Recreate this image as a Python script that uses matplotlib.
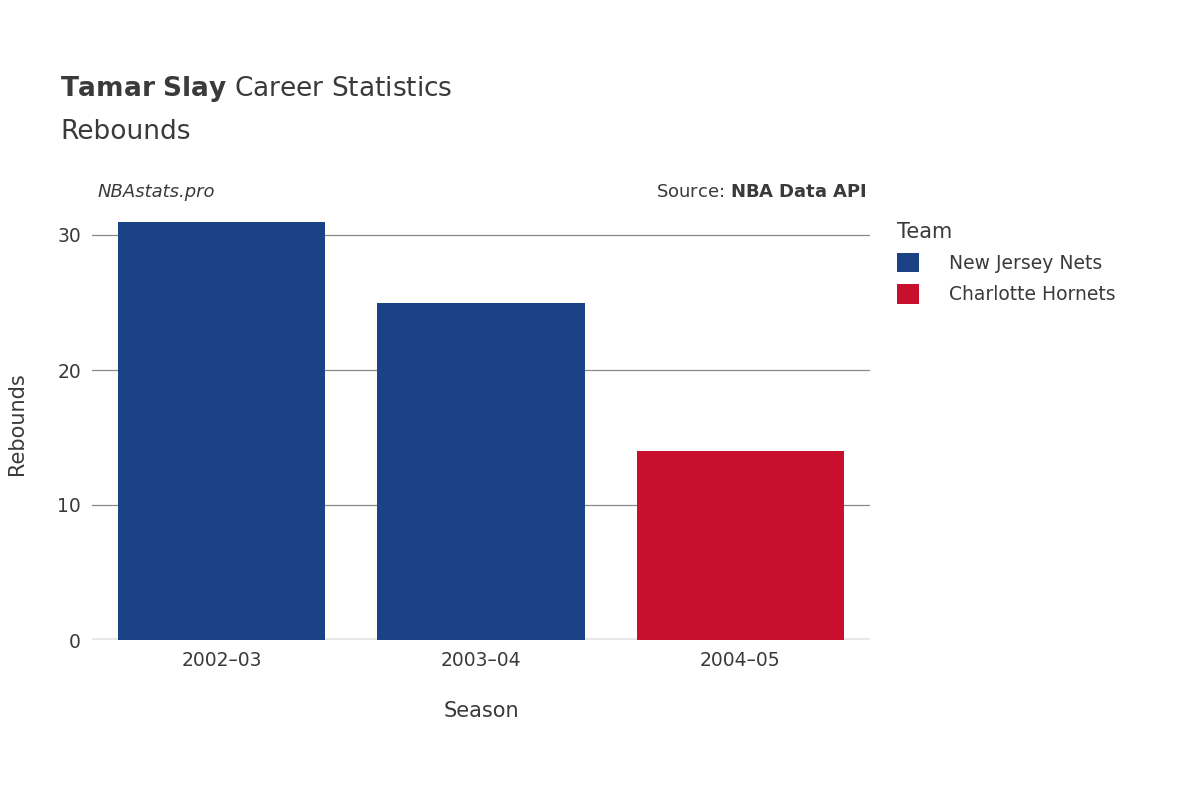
import matplotlib.pyplot as plt
from matplotlib.patches import Patch

seasons = ["2002\u201303", "2003\u201304", "2004\u201305"]
rebounds = [31, 25, 14]
teams = ["New Jersey Nets", "New Jersey Nets", "Charlotte Hornets"]
team_colors = {"New Jersey Nets": "#1c4286", "Charlotte Hornets": "#c8102e"}
txt = "#3a3a3a"

fig = plt.figure(figsize=(12, 8), dpi=100)
ax = fig.add_axes([92 / 1200, 160 / 800, 778 / 1200, 432 / 800])

x = range(len(seasons))
ax.bar(x, rebounds, width=0.8, color=[team_colors[t] for t in teams], zorder=3)
ax.set_xlim(-0.5, 2.5)
ax.set_ylim(0, 32)
ax.set_yticks([0, 10, 20, 30])
ax.set_xticks(list(x))
ax.set_xticklabels(seasons)
ax.grid(axis="y", color="#888888", linewidth=0.9, zorder=0)
ax.axhline(0, color="#e8e8e8", linewidth=3, zorder=2)
for s in ax.spines.values():
    s.set_visible(False)
ax.tick_params(length=0, labelsize=13.5, colors=txt, pad=8)
ax.set_xlabel("Season", fontsize=15, color=txt, labelpad=22)
ax.set_ylabel("Rebounds", fontsize=15, color=txt, labelpad=22)

fig.text(60 / 1200, 1 - 89 / 800, r"$\bf{Tamar\ Slay}$ Career Statistics", fontsize=19,
         color=txt, va="center")
fig.text(60 / 1200, 1 - 132 / 800, "Rebounds", fontsize=19, color=txt, va="center")
fig.text(98 / 1200, 1 - 192 / 800, "NBAstats.pro", fontsize=13, style="italic", color=txt, va="center")
fig.text(866 / 1200, 1 - 192 / 800, r"Source: $\bf{NBA\ Data\ API}$", fontsize=13, color=txt,
         va="center", ha="right")

handles = [Patch(facecolor=c, label=t) for t, c in team_colors.items()]
leg = fig.legend(handles=handles, loc="upper left", bbox_to_anchor=(880 / 1200, 1 - 205 / 800),
                 frameon=False, fontsize=13.5, title="Team", title_fontsize=15,
                 handlelength=1.2, handleheight=1.2, labelspacing=0.6, handletextpad=1.6)
leg._legend_box.align = "left"
for t in leg.get_texts():
    t.set_color(txt)
leg.get_title().set_color(txt)

fig.savefig("out.png")
